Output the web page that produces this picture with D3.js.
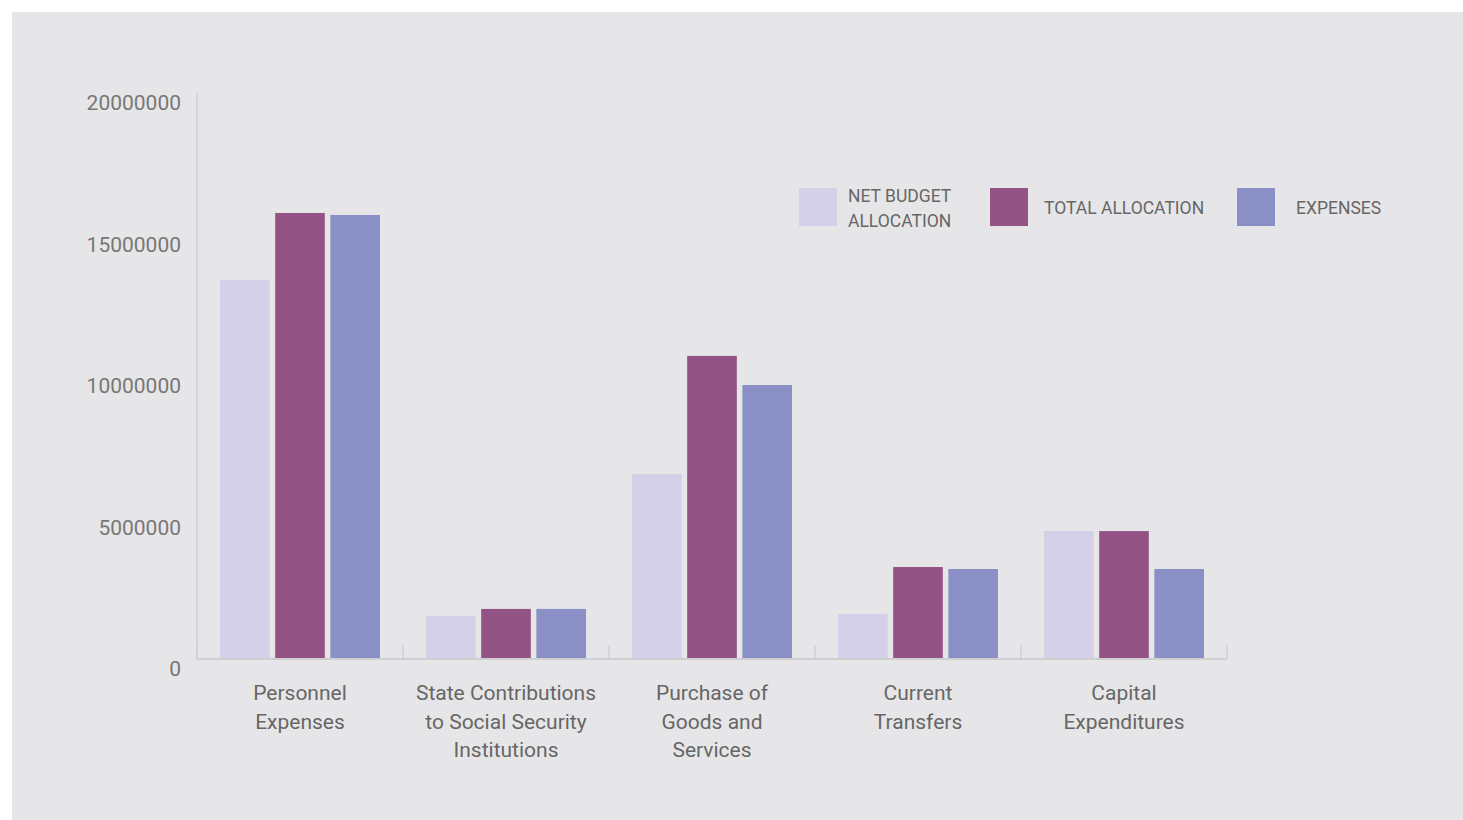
<!DOCTYPE html>
<html>
<head>
<meta charset="utf-8">
<script src="https://cdn.jsdelivr.net/npm/d3@7"></script>
<style>
  body { margin: 0; background: #fff; }
  #chart { position: absolute; left: 12px; top: 12px; width: 1451px; height: 808px; background: #e6e6e8; }
  text { font-family: Roboto, "Noto Sans", sans-serif; }
</style>
</head>
<body>
<div id="chart"></div>
<script>
const categories = [
  ["Personnel", "Expenses"],
  ["State Contributions", "to Social Security", "Institutions"],
  ["Purchase of", "Goods and", "Services"],
  ["Current", "Transfers"],
  ["Capital", "Expenditures"]
];
const seriesNames = ["NET BUDGET ALLOCATION", "TOTAL ALLOCATION", "EXPENSES"];
const netBudget = [13400000, 1520000, 6540000, 1590000, 4520000];
const totalAllocation = [15760000, 1770000, 10710000, 3250000, 4520000];
const expenses = [15690000, 1770000, 9680000, 3180000, 3180000];
const yTicks = [0, 5000000, 10000000, 15000000, 20000000];
const colors = ["#d4d0e8", "#935384", "#8a90c6"];

const series = [netBudget, totalAllocation, expenses];
const data = categories.map((c, i) => ({ idx: i, label: c, values: series.map(s => s[i]) }));

// chart frame (page coords minus the 12px panel offset)
const margin = { top: 81, left: 185 };
const width = 1030;
const height = 566;

const svg = d3.select("#chart")
  .append("svg")
  .attr("width", 1451)
  .attr("height", 808);

const g = svg.append("g")
  .attr("transform", `translate(${margin.left},${margin.top})`);

const x = d3.scaleBand()
  .domain(data.map(d => d.idx))
  .range([0, width])
  .paddingInner(0)
  .paddingOuter(0);

const inner = d3.scaleBand()
  .domain([0, 1, 2])
  .range([23, x.bandwidth() - 23])
  .paddingInner(0.1);

const y = d3.scaleLinear()
  .domain([0, 20000000])
  .range([height, 0]);

// y axis: line only, labels shifted down a bit
g.append("line")
  .attr("x1", 0).attr("x2", 0)
  .attr("y1", 0).attr("y2", height)
  .attr("stroke", "#cfcfd2")
  .attr("stroke-width", 1.5);

g.selectAll(".ylab")
  .data(yTicks)
  .join("text")
  .attr("class", "ylab")
  .attr("x", -16)
  .attr("y", d => y(d) + 17)
  .attr("text-anchor", "end")
  .attr("font-size", 21)
  .attr("fill", "#777")
  .text(d => d);

// bars
const groups = g.selectAll(".grp")
  .data(data)
  .join("g")
  .attr("class", "grp")
  .attr("transform", d => `translate(${x(d.idx)},0)`);

groups.selectAll("rect")
  .data(d => d.values.map((v, k) => ({ k, v })))
  .join("rect")
  .attr("x", d => inner(d.k))
  .attr("y", d => y(d.v))
  .attr("width", inner.bandwidth())
  .attr("height", d => height - y(d.v))
  .attr("fill", d => colors[d.k]);

// x axis with upward ticks at band edges
const xAxis = g.append("g").attr("transform", `translate(0,${height})`);
xAxis.append("line")
  .attr("x1", 0).attr("x2", width)
  .attr("stroke", "#cfcfd2")
  .attr("stroke-width", 2);
xAxis.selectAll(".tk")
  .data(d3.range(categories.length + 1))
  .join("line")
  .attr("class", "tk")
  .attr("x1", i => i * x.step()).attr("x2", i => i * x.step())
  .attr("y1", 0).attr("y2", -14)
  .attr("stroke", "#cfcfd2")
  .attr("stroke-width", 1.5);

xAxis.selectAll(".xlab")
  .data(data)
  .join("text")
  .attr("class", "xlab")
  .attr("x", d => x(d.idx) + x.bandwidth() / 2)
  .attr("y", 41)
  .attr("text-anchor", "middle")
  .attr("font-size", 21)
  .attr("fill", "#666")
  .selectAll("tspan")
  .data(d => d.label)
  .join("tspan")
  .attr("x", function () { return d3.select(this.parentNode).attr("x"); })
  .attr("dy", (d, i) => i === 0 ? 0 : 28.5)
  .text(d => d);

// legend
const legendItems = [
  { name: seriesNames[0], lines: ["NET BUDGET", "ALLOCATION"], x: 787, tx: 836 },
  { name: seriesNames[1], lines: [seriesNames[1]], x: 978, tx: 1032 },
  { name: seriesNames[2], lines: [seriesNames[2]], x: 1225, tx: 1284 }
];
const legend = svg.append("g");
legendItems.forEach((item, i) => {
  legend.append("rect")
    .attr("x", item.x).attr("y", 176)
    .attr("width", 38).attr("height", 38)
    .attr("fill", colors[i]);
  const t = legend.append("text")
    .attr("x", item.tx)
    .attr("font-size", 17.5)
    .attr("fill", "#666");
  const startY = 195 + 7 - (item.lines.length - 1) * 12.5;
  item.lines.forEach((l, j) => {
    t.append("tspan").attr("x", item.tx).attr("y", startY + j * 25).text(l);
  });
});
</script>
</body>
</html>
